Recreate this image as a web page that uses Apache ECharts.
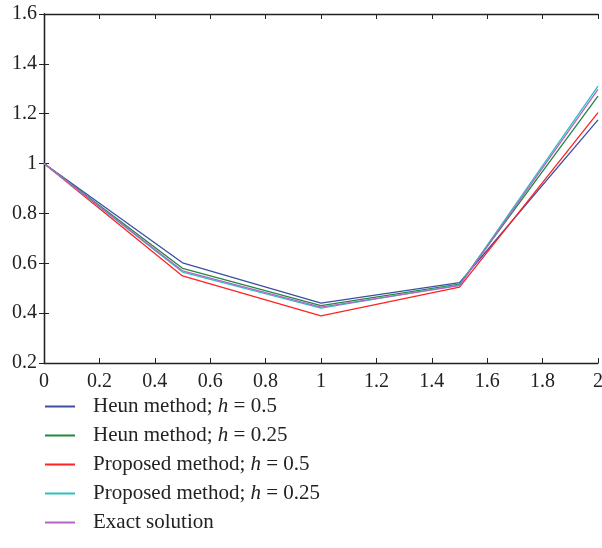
<!DOCTYPE html>
<html><head><meta charset="utf-8">
<script src="https://cdn.jsdelivr.net/npm/echarts@6/dist/echarts.min.js"></script>
<style>html,body{margin:0;padding:0;background:#fff}#c{width:602px;height:548px}</style>
</head><body><div id="c"></div>
<script>
const xValues = [0, 0.5, 1, 1.5, 2];
const heunH05 = [1, 0.602, 0.440, 0.522, 1.175];
const heunH025 = [1, 0.580, 0.430, 0.516, 1.271];
const propH05 = [1, 0.549, 0.389, 0.504, 1.204];
const propH025 = [1, 0.565, 0.420, 0.513, 1.311];
const exact = [1, 0.570, 0.424, 0.510, 1.298];
const seriesNames = ['Heun method; h = 0.5', 'Heun method; h = 0.25', 'Proposed method; h = 0.5', 'Proposed method; h = 0.25', 'Exact solution'];
const seriesData = [heunH05, heunH025, propH05, propH025, exact];
const colors = ['#3b4fa3', '#23873f', '#ff2222', '#2cc0c0', '#b463c4'];

const font = 'Liberation Serif';
const chart = echarts.init(document.getElementById('c'));
const axisLine = {show: true, lineStyle: {color: '#222', width: 1.3}};
const tick = {show: true, inside: true, length: 5, lineStyle: {color: '#222', width: 1}};
chart.setOption({
  animation: false,
  grid: {left: 44, top: 14, right: 4, bottom: 185, containLabel: false, outerBoundsMode: 'none'},
  legend: {
    orient: 'vertical', left: 40, top: 391, itemWidth: 30, itemHeight: 2, itemGap: 8,
    icon: 'rect',
    data: seriesNames,
    formatter: n => n.replace(' h ', ' {i|h} '),
    textStyle: {fontFamily: font, fontSize: 21, color: '#222', padding: [0, 0, 0, 13],
      rich: {i: {fontFamily: font, fontSize: 21, fontStyle: 'italic', color: '#222'}}}
  },
  xAxis: [
    {type: 'value', min: 0, max: 2, interval: 0.2, position: 'bottom', axisLine, axisTick: tick,
     splitLine: {show: false}, axisLabel: {fontFamily: font, fontSize: 20, color: '#222', margin: 9}},
    {type: 'value', min: 0, max: 2, interval: 0.2, position: 'top', axisLine, axisTick: tick,
     splitLine: {show: false}, axisLabel: {show: false}}
  ],
  yAxis: [
    {type: 'value', min: 0.2, max: 1.6, interval: 0.2, position: 'left', axisLine, axisTick: tick,
     splitLine: {show: false}, axisLabel: {fontFamily: font, fontSize: 20, color: '#222', margin: 7}},
    {type: 'value', min: 0.2, max: 1.6, interval: 0.2, position: 'right', axisLine, axisTick: tick,
     splitLine: {show: false}, axisLabel: {show: false}}
  ],
  series: seriesNames.map((name, k) => ({
    name, type: 'line', showSymbol: false, symbol: 'none',
    data: xValues.map((x, i) => [x, seriesData[k][i]]),
    lineStyle: {color: colors[k], width: 1.3}, itemStyle: {color: colors[k]}
  }))
});
</script></body></html>
